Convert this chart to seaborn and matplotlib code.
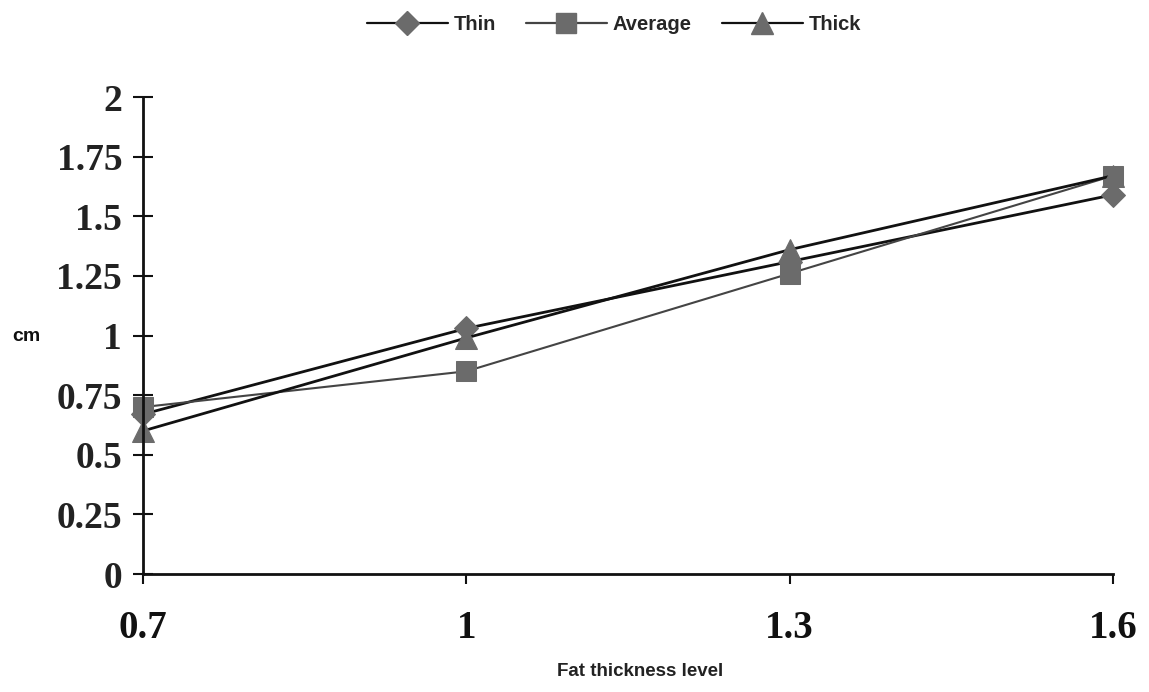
import numpy as np
import pandas as pd
import matplotlib
matplotlib.use("Agg")
import matplotlib.pyplot as plt
import seaborn as sns

# Fat thickness levels and measured values (cm) for each group
levels = [0.7, 1.0, 1.3, 1.6]
thin = [0.67, 1.03, 1.31, 1.59]
average = [0.70, 0.85, 1.26, 1.67]
thick = [0.60, 0.99, 1.36, 1.67]
groups = ["Thin", "Average", "Thick"]
x_labels = ["0.7", "1", "1.3", "1.6"]
y_labels = ["0", "0.25", "0.5", "0.75", "1", "1.25", "1.5", "1.75", "2"]

df = pd.DataFrame({
    "level": levels * 3,
    "value": thin + average + thick,
    "group": ["Thin"] * 4 + ["Average"] * 4 + ["Thick"] * 4,
})

sns.set_theme(style="white")
fig = plt.figure(figsize=(11.49, 6.92), dpi=100)
ax = fig.add_axes([0.1245, 0.1705, 0.8442, 0.6893])

palette = {"Thin": "#111111", "Average": "#444444", "Thick": "#111111"}
markers = {"Thin": "D", "Average": "s", "Thick": "^"}
widths = {"Thin": 2.0, "Average": 1.5, "Thick": 2.0}
marker_sizes = {"Thin": 12, "Average": 14, "Thick": 16}
marker_fill = "#6b6b6b"

sns.lineplot(data=df, x="level", y="value", hue="group", style="group",
             hue_order=groups, style_order=groups, palette=palette,
             markers=markers, dashes=False, size="group", sizes=widths,
             size_order=groups, ax=ax, legend=False)

for line, g in zip(ax.get_lines(), groups):
    line.set_markerfacecolor(marker_fill)
    line.set_markeredgecolor(marker_fill)
    line.set_markersize(marker_sizes[g])
    line.set_clip_on(False)

ax.set_xlim(0.7, 1.6)
ax.set_ylim(0, 2)
ax.set_xticks(levels)
ax.set_xticklabels(x_labels)
ax.set_yticks(np.arange(0, 2.01, 0.25))
ax.set_yticklabels(y_labels)

for lab in ax.get_xticklabels():
    lab.set_fontfamily("Liberation Serif")
    lab.set_fontweight("bold")
    lab.set_fontsize(28)
    lab.set_color("#111111")
for lab in ax.get_yticklabels():
    lab.set_fontfamily("Liberation Serif")
    lab.set_fontweight("bold")
    lab.set_fontsize(27)
    lab.set_color("#222222")

ax.tick_params(axis="y", direction="inout", length=14, width=1.5, color="#111111", pad=8, left=True)
ax.tick_params(axis="x", direction="out", length=7, width=1.5, color="#111111", pad=19, bottom=True)

for side in ["top", "right"]:
    ax.spines[side].set_visible(False)
for side in ["left", "bottom"]:
    ax.spines[side].set_color("#111111")
    ax.spines[side].set_linewidth(2)

ax.set_xlabel("")
ax.set_ylabel("")
fig.text(640 / 1149, 1 - 672 / 692, "Fat thickness level", ha="center", va="center",
         fontfamily="Liberation Sans", fontweight="bold", fontsize=13.5, color="#222222")
fig.text(26 / 1149, 1 - 337 / 692, "cm", ha="center", va="center",
         fontfamily="Liberation Sans", fontweight="bold", fontsize=14, color="#111111")

handles = []
for g in groups:
    h, = ax.plot([], [], color=palette[g], lw=1.6, marker=markers[g],
                 markersize=marker_sizes[g], markerfacecolor=marker_fill,
                 markeredgecolor=marker_fill)
    handles.append(h)
fig.legend(handles, groups, loc="center", bbox_to_anchor=(614 / 1149, 1 - 25 / 692),
           ncol=3, frameon=False, handlelength=4.0, handletextpad=0.3,
           columnspacing=1.5, borderpad=0.1,
           prop={"family": "Liberation Sans", "weight": "bold", "size": 14.5})

fig.savefig("out.png", dpi=100, facecolor="white")
